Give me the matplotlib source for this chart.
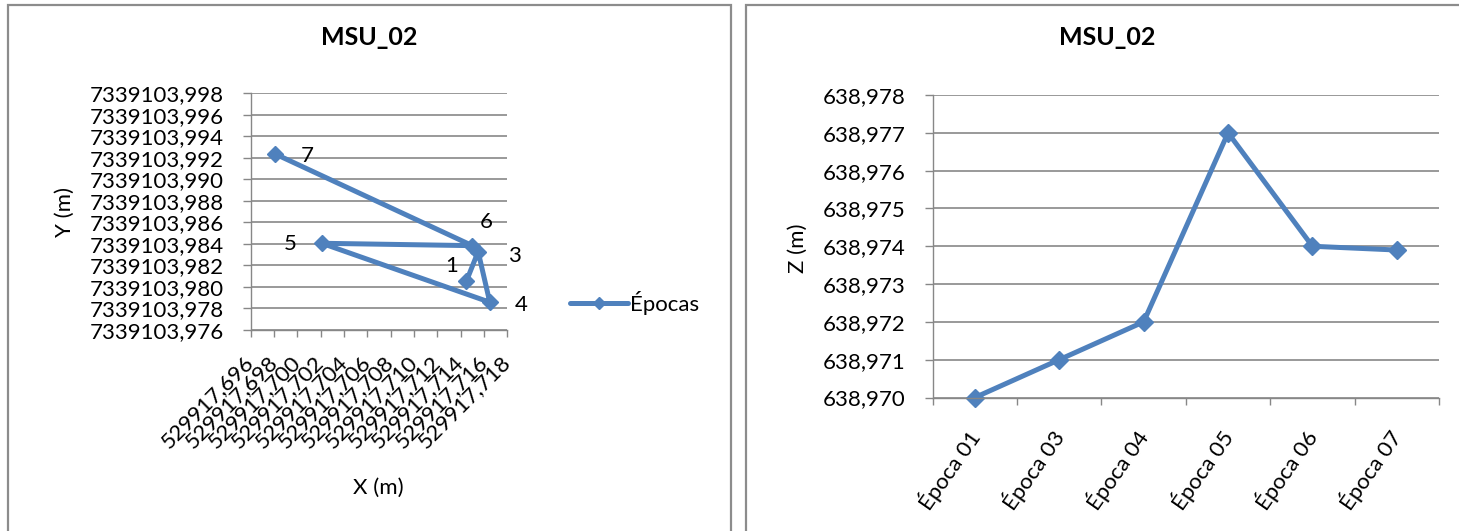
import matplotlib
matplotlib.use("Agg")
import matplotlib.pyplot as plt
from matplotlib.patches import Rectangle
from matplotlib.ticker import FuncFormatter
import numpy as np

plt.rcParams['font.family'] = ['Lato', 'DejaVu Sans']

# Planimetric coordinates of MSU_02 per epoch
epoch_numbers = ["1", "3", "4", "5", "6", "7"]
x_coords = [529917.7145, 529917.7155, 529917.7165, 529917.7021, 529917.7150, 529917.6981]
y_coords = [7339103.98056, 7339103.98328, 7339103.97858, 7339103.98406, 7339103.98384, 7339103.99236]

# Height of MSU_02 per epoch
epoch_names = ["Época 01", "Época 03", "Época 04", "Época 05", "Época 06", "Época 07"]
z_coords = [638.970, 638.971, 638.972, 638.977, 638.974, 638.9739]

BLUE = "#4F81BD"
GRID = "#878787"
FS = 16

W, H = 1459, 531
fig = plt.figure(figsize=(W / 100, H / 100), dpi=100)


def fx(px):
    return px / W


def fy(py):
    return 1 - py / H


def comma(fmt):
    return FuncFormatter(lambda v, pos: format(v, fmt).replace('.', ','))


# chart frames
for x0, x1 in [(8, 731), (746, 1465)]:
    fig.add_artist(Rectangle((fx(x0), fy(545)), fx(x1) - fx(x0), fy(5) - fy(545),
                             transform=fig.transFigure, fill=False,
                             edgecolor="#8c8c8c", linewidth=1.6))


def style_axes(ax):
    for side in ("top", "right"):
        ax.spines[side].set_visible(False)
    for side in ("left", "bottom"):
        ax.spines[side].set_color(GRID)
        ax.spines[side].set_linewidth(1.0)
    ax.yaxis.grid(True, color=GRID, linewidth=1.2)
    ax.set_axisbelow(True)
    ax.tick_params(axis='y', length=5.8, width=1, color=GRID, pad=13.5, labelsize=FS)


# ---- left: X / Y path of the point ----
axL = fig.add_axes([fx(250.7), fy(330), fx(507.3) - fx(250.7), fy(93.3) - fy(330)])
style_axes(axL)
axL.plot(x_coords, y_coords, color=BLUE, lw=3.6, marker='D', ms=8, mec=BLUE, mfc=BLUE,
         solid_joinstyle='round', solid_capstyle='round', label='Épocas', clip_on=False)
axL.set_xlim(529917.696, 529917.718)
axL.set_ylim(7339103.976, 7339103.998)
axL.set_xticks(np.linspace(529917.696, 529917.718, 12))
axL.set_yticks(np.linspace(7339103.976, 7339103.998, 12))
axL.xaxis.set_major_formatter(comma('.3f'))
axL.yaxis.set_major_formatter(comma('.3f'))
axL.tick_params(axis='x', length=5, width=1, color=GRID, pad=16, labelsize=FS)
for lbl in axL.get_xticklabels():
    lbl.set_rotation(45)
    lbl.set_ha('right')
    lbl.set_va('center')
    lbl.set_rotation_mode('anchor')

label_offsets = [(-10.8, 10.8), (25.9, -2.9), (22.3, -2.2), (-23, -0.7), (9.7, 17.3), (23.4, -1.4)]
for n, x, y, off in zip(epoch_numbers, x_coords, y_coords, label_offsets):
    axL.annotate(n, (x, y), xytext=off, textcoords='offset points',
                 ha='center', va='center', fontsize=FS)

axL.set_title("MSU_02", fontsize=18, fontweight='bold', x=0.462, y=1.169, va='baseline')
axL.set_xlabel("X (m)", fontsize=FS, va='center')
axL.xaxis.set_label_coords(0.496, -0.6675)
axL.set_ylabel("Y (m)", fontsize=FS, va='center')
axL.yaxis.set_label_coords(-0.7237, 0.4985)

axL.legend(loc='center left', bbox_to_anchor=(fx(570), fy(303)), bbox_transform=fig.transFigure,
           frameon=False, borderpad=0, borderaxespad=0, handlelength=2.6, handletextpad=0.1,
           fontsize=FS, markerscale=0.8)

# ---- right: Z per epoch ----
axR = fig.add_axes([fx(932.7), fy(397.5), fx(1439) - fx(932.7), fy(95) - fy(397.5)])
style_axes(axR)
pos = np.arange(len(epoch_names))
axR.plot(pos, z_coords, color=BLUE, lw=3.6, marker='D', ms=9.5, mec=BLUE, mfc=BLUE,
         solid_joinstyle='round', solid_capstyle='round', clip_on=False)
axR.set_xlim(-0.5, len(epoch_names) - 0.5)
axR.set_ylim(638.970, 638.978)
axR.set_yticks(np.linspace(638.970, 638.978, 9))
axR.yaxis.set_major_formatter(comma('.3f'))
axR.set_xticks(pos, epoch_names)
axR.set_xticks(np.arange(-0.5, len(epoch_names)), minor=True)
axR.tick_params(axis='x', which='major', length=0, pad=25, labelsize=FS)
axR.tick_params(axis='x', which='minor', length=5, width=1, color=GRID)
for lbl in axR.get_xticklabels():
    lbl.set_rotation(55)
    lbl.set_ha('right')
    lbl.set_va('center')
    lbl.set_rotation_mode('anchor')

axR.set_title("MSU_02", fontsize=18, fontweight='bold', x=(1107 - 932.7) / (1439 - 932.7),
              y=(397.5 - 53.3) / (397.5 - 95), va='baseline')
axR.set_ylabel("Z (m)", fontsize=FS, va='center')
axR.yaxis.set_label_coords((798 - 932.7) / (1439 - 932.7), (397.5 - 248) / (397.5 - 95))

fig.savefig("out.png", dpi=100)
